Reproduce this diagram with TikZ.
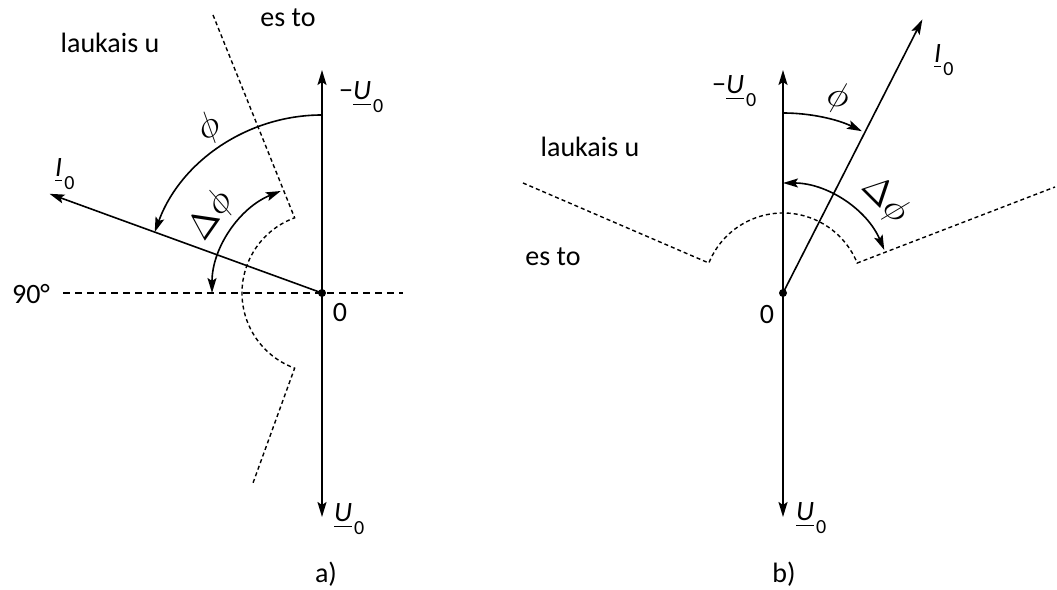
\documentclass[tikz,border=0pt]{standalone}
\usepackage{fontspec}
\usepackage{unicode-math}
\setmainfont{Carlito}
\setmathfont{Latin Modern Math}
\usetikzlibrary{arrows.meta,calc}
\newcommand{\phasor}[1]{\underline{\textit{#1}}\hspace{2pt}\raisebox{-0.45em}{\fontsize{20}{24}\selectfont 0}}

\begin{document}
\begin{tikzpicture}[x=1pt,y=1pt,
  >={Stealth[length=15pt,width=9pt,inset=3pt]},
  axis/.style={line width=1.8pt},
  vec/.style={line width=1.6pt},
  angarc/.style={line width=1.6pt},
  refline/.style={line width=1.6pt,dash pattern=on 7pt off 5pt},
  border/.style={line width=1.4pt,dash pattern=on 4pt off 3pt},
  lbl/.style={font=\fontsize{28}{32}\selectfont,inner sep=0pt},
  anglbl/.style={font=\fontsize{36}{40}\selectfont,inner sep=0pt}]
  \useasboundingbox (0,0) rectangle (1057,589);

  % Part a: trip area on the left
  \coordinate (Oa) at (322,296);
  \coordinate (Ua-top) at (322,519);
  \coordinate (Ua-bot) at (322,72);
  \coordinate (ha-l) at (63,296);
  \coordinate (ha-r) at (403,296);
  \coordinate (Ia) at ($(Oa)+(160:290)$);
  \coordinate (ba-1) at (213,574);
  \coordinate (ba-2) at ($(Oa)+(110:80)$);
  \coordinate (ba-3) at (253,106);
  \draw[refline] (ha-l) -- (ha-r);
  \draw[border] (ba-1) -- (ba-2) arc[start angle=110, end angle=250, radius=80] -- (ba-3);
  \draw[axis,<->] (Ua-bot) -- (Ua-top);
  \draw[vec,->] (Oa) -- (Ia);
  \draw[angarc,->] ($(Oa)+(90:178)$) arc[start angle=90, end angle=160, radius=178];
  \draw[angarc,<->] ($(Oa)+(112:110)$) arc[start angle=112, end angle=180, radius=110];
  \fill (Oa) circle (4);
  \node[lbl] (laukA) at (110,546) {laukais u};
  \node[lbl] (estoA) at (288,571) {es to};
  \node[lbl,anchor=base west] (mUa) at (339,489) {−\phasor{U}};
  \node[lbl,anchor=base west] (Ua) at (334,67) {\phasor{U}};
  \node[lbl,anchor=base west] (Ia-lbl) at (55,412) {\phasor{I}};
  \node[lbl] (zeroA) at (340,276) {0};
  \node[lbl] (deg) at (31,295) {90°};
  \node[anglbl,rotate=34] (phiA) at (210,461) {$\phi$};
  \node[anglbl,rotate=55] (dphiA) at (212,373) {$\Delta\phi$};
  \node[lbl,anchor=base] (capA) at (326,6) {a)};

  % Part b: trip area on top
  \coordinate (Ob) at (783,296);
  \coordinate (Ub-top) at (783,519);
  \coordinate (Ub-bot) at (783,72);
  \coordinate (Ib) at ($(Ob)+(63:307)$);
  \coordinate (bb-1) at (523,406);
  \coordinate (bb-2) at ($(Ob)+(158:80)$);
  \coordinate (bb-3) at (1055,402);
  \draw[border] (bb-1) -- (bb-2) arc[start angle=158, end angle=22, radius=80] -- (bb-3);
  \draw[axis,<->] (Ub-bot) -- (Ub-top);
  \draw[vec,->] (Ob) -- (Ib);
  \draw[angarc,->] ($(Ob)+(90:180)$) arc[start angle=90, end angle=64, radius=180];
  \draw[angarc,<->] ($(Ob)+(90:110)$) arc[start angle=90, end angle=23, radius=110];
  \fill (Ob) circle (4);
  \node[lbl] (laukB) at (590,442) {laukais u};
  \node[lbl] (estoB) at (553,332) {es to};
  \node[lbl,anchor=base west] (mUb) at (712,495) {−\phasor{U}};
  \node[lbl,anchor=base west] (Ub) at (796,68) {\phasor{U}};
  \node[lbl,anchor=base west] (Ib-lbl) at (934,526) {\phasor{I}};
  \node[lbl] (zeroB) at (767,274) {0};
  \node[anglbl,rotate=-16] (phiB) at (838,491) {$\phi$};
  \node[anglbl,rotate=-45] (dphiB) at (885,389) {$\Delta\phi$};
  \node[lbl,anchor=base] (capB) at (784,6) {b)};
\end{tikzpicture}
\end{document}
